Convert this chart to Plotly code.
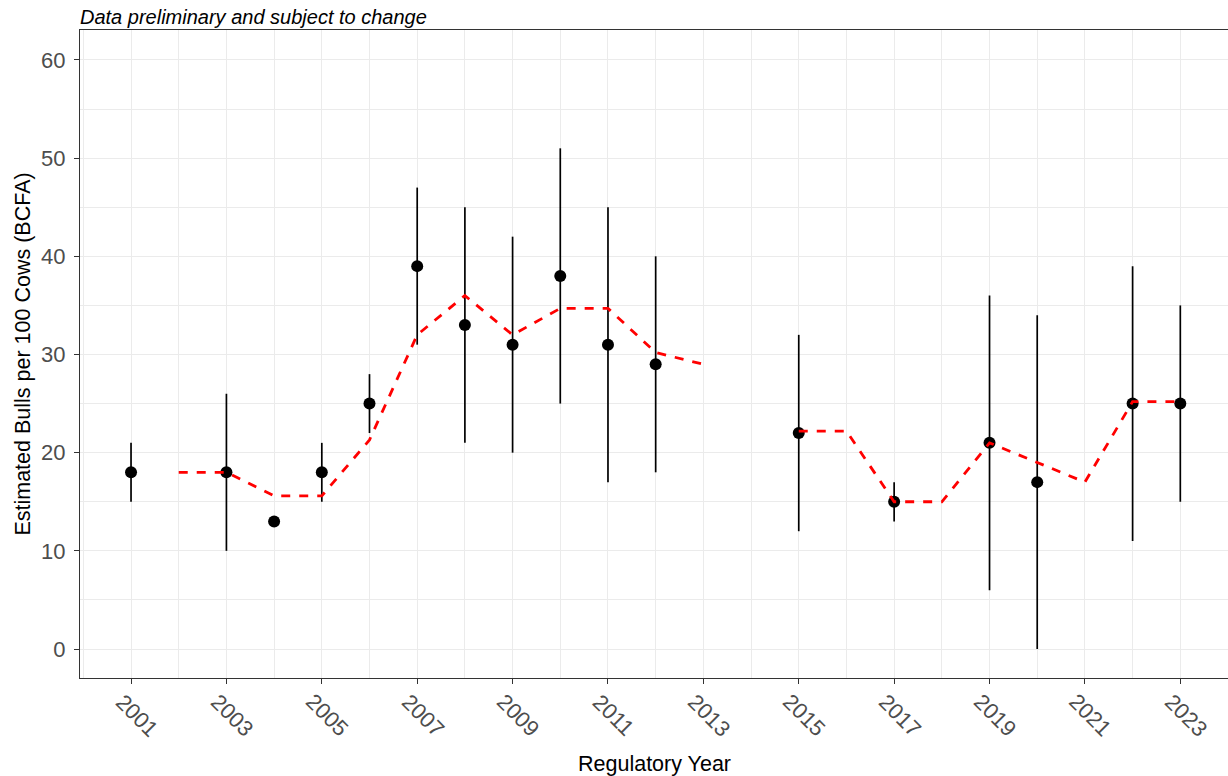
import plotly.graph_objects as go

years = [2001, 2003, 2004, 2005, 2006, 2007, 2008, 2009, 2010, 2011, 2012, 2015, 2017, 2019, 2020, 2022, 2023]
estimate = [18, 18, 13, 18, 25, 39, 33, 31, 38, 31, 29, 22, 15, 21, 17, 25, 25]
lower = [15, 10, 13, 15, 22, 31, 21, 20, 25, 17, 18, 12, 13, 6, 0, 11, 15]
upper = [21, 26, 13, 21, 28, 47, 45, 42, 51, 45, 40, 32, 17, 36, 34, 39, 35]

trend_years = [2002, 2003, 2004, 2005, 2006, 2007, 2008, 2009, 2010, 2011, 2012, 2013, 2014,
               2015, 2016, 2017, 2018, 2019, 2020, 2021, 2022, 2023]
trend_vals = [18, 18, 15.6, 15.6, 21.3, 32, 36, 32, 34.7, 34.7, 30.2, 29, None,
              22.2, 22.2, 15, 15, 21, 19, 17, 25.2, 25.2]

tick_years = [2001, 2003, 2005, 2007, 2009, 2011, 2013, 2015, 2017, 2019, 2021, 2023]
y_ticks = [0, 10, 20, 30, 40, 50, 60]

FONT = "Liberation Sans, Arial, sans-serif"

fig = go.Figure()

fig.add_trace(go.Scatter(
    x=years, y=estimate, mode="markers",
    marker=dict(color="black", size=12),
    error_y=dict(type="data", symmetric=False,
                 array=[u - e for u, e in zip(upper, estimate)],
                 arrayminus=[e - l for e, l in zip(estimate, lower)],
                 color="black", thickness=1.7, width=0),
    showlegend=False,
))

fig.add_trace(go.Scatter(
    x=trend_years, y=trend_vals, mode="lines",
    line=dict(color="#FF0000", width=2.8, dash="dash"),
    connectgaps=False, showlegend=False,
))

annotations = [dict(text="<i>Data preliminary and subject to change</i>",
                    xref="paper", yref="paper", x=0, y=1, xanchor="left", yanchor="bottom",
                    xshift=-2, showarrow=False, font=dict(family=FONT, size=20, color="black"))]
for t in tick_years:
    annotations.append(dict(text=str(t), xref="x", yref="paper", x=t, y=0,
                            xanchor="center", yanchor="middle", xshift=6, yshift=-37,
                            textangle=45, showarrow=False,
                            font=dict(family=FONT, size=22, color="#4D4D4D")))
annotations.append(dict(text="Regulatory Year", xref="paper", yref="paper", x=0.5, y=0,
                        xanchor="center", yanchor="middle", yshift=-86, showarrow=False,
                        font=dict(family=FONT, size=21.5, color="black")))

fig.update_layout(
    width=1228, height=776,
    margin=dict(l=80, r=0, t=30, b=98),
    plot_bgcolor="white", paper_bgcolor="white",
    font=dict(family=FONT),
    annotations=annotations,
)

fig.update_xaxes(
    range=[1999.93, 2024.0],
    tickmode="array", tickvals=tick_years, showticklabels=False,
    ticks="outside", ticklen=5, tickcolor="#333333", tickwidth=1.2,
    showgrid=True, gridcolor="#EBEBEB", gridwidth=1.4,
    minor=dict(dtick=1, tick0=2000, showgrid=True, gridcolor="#EBEBEB", gridwidth=1.4),
    showline=True, linecolor="#333333", linewidth=1.3, mirror=True,
    zeroline=False,
)

fig.update_yaxes(
    range=[-2.95, 63.05],
    tickmode="array", tickvals=y_ticks,
    tickfont=dict(size=22, color="#4D4D4D"), ticklabelstandoff=4,
    ticks="outside", ticklen=5, tickcolor="#333333", tickwidth=1.2,
    showgrid=True, gridcolor="#EBEBEB", gridwidth=1.4,
    minor=dict(dtick=5, tick0=0, showgrid=True, gridcolor="#EBEBEB", gridwidth=1.4),
    showline=True, linecolor="#333333", linewidth=1.3,
    zeroline=False,
    title=dict(text="Estimated Bulls per 100 Cows (BCFA)", font=dict(size=21.5, color="black"), standoff=4),
)

fig.write_html("out.html", config={"displayModeBar": False},
               post_script="document.body.style.margin='0';")
